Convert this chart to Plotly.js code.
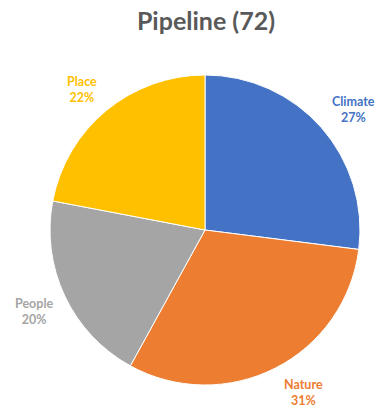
<!DOCTYPE html>
<html><head><meta charset="utf-8">
<script src="https://cdn.plot.ly/plotly-3.0.1.min.js"></script>
<style>html,body{margin:0;padding:0;background:#fff}#chart{width:375px;height:414px}</style>
</head><body><div id="chart"></div>
<script>
var categories = ["Climate", "Nature", "People", "Place"];
var percents = [27, 31, 20, 22];
var colors = ["#4472C4", "#ED7D31", "#A5A5A5", "#FFC000"];
var titleText = "Pipeline (72)";

var W = 375, H = 414, cx = 205, cy = 230, R = 155;
var total = percents.reduce(function(a,b){return a+b;},0);
var annotations = [];
var cum = 0;
var labelDist = 1.23;
var nudgeX = [5, 12, 2, -1];
var nudgeY = [6, -7, 0, 6];
for (var i = 0; i < categories.length; i++) {
  var mid = (cum + percents[i] / 2) / total * 2 * Math.PI;
  cum += percents[i];
  var px = cx + Math.sin(mid) * R * labelDist + nudgeX[i];
  var py = cy - Math.cos(mid) * R * labelDist + nudgeY[i];
  annotations.push({
    x: px / W, y: 1 - py / H, xref: "paper", yref: "paper",
    xanchor: "center", yanchor: "middle", showarrow: false,
    text: "<b>" + categories[i] + "<br>" + Math.round(percents[i] / total * 100) + "%</b>",
    font: {family: "Lato, 'Open Sans', sans-serif", size: 12.5, color: colors[i]},
    align: "center"
  });
}

Plotly.newPlot("chart", [{
  type: "pie",
  labels: categories,
  values: percents,
  sort: false,
  direction: "clockwise",
  rotation: 0,
  marker: {colors: colors, line: {color: "#ffffff", width: 1}},
  textinfo: "none",
  hoverinfo: "label+percent",
  domain: {x: [(cx - R) / W, (cx + R) / W], y: [(H - cy - R) / H, (H - cy + R) / H]}
}], {
  width: W, height: H,
  margin: {l: 0, r: 0, t: 0, b: 0},
  showlegend: false,
  paper_bgcolor: "#fff",
  title: {text: "<b>" + titleText + "</b>", x: 206 / W, xanchor: "center", y: 1 - 21 / H, yanchor: "middle",
    font: {family: "Lato, 'Open Sans', sans-serif", size: 25, color: "#595959"}},
  annotations: annotations
}, {displayModeBar: false, staticPlot: true});
</script></body></html>
